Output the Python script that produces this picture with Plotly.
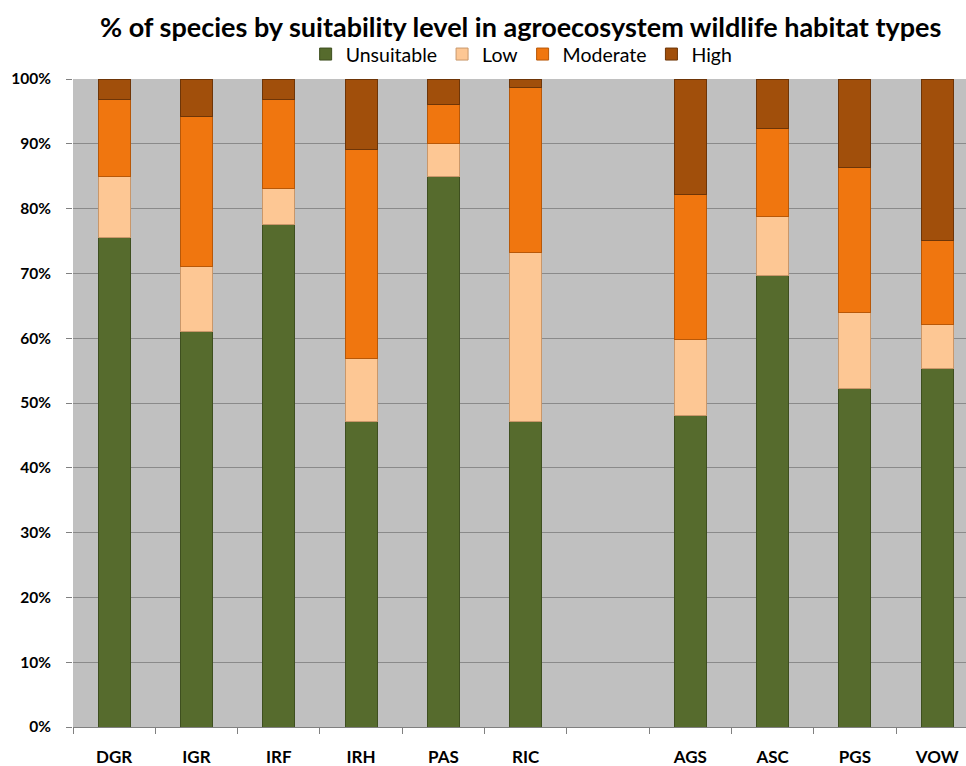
import plotly.graph_objects as go

categories = ["DGR", "IGR", "IRF", "IRH", "PAS", "RIC", " ", "AGS", "ASC", "PGS", "VOW"]
unsuitable = [75.5, 61.1, 77.5, 47.2, 84.9, 47.2, None, 48.0, 69.6, 52.2, 55.4]
low        = [9.4, 9.9, 5.6, 9.7, 5.1, 26.1, None, 11.8, 9.2, 11.7, 6.7]
moderate   = [12.0, 23.2, 13.8, 32.2, 6.0, 25.4, None, 22.3, 13.5, 22.4, 13.0]
high       = [3.1, 5.8, 3.1, 10.9, 4.0, 1.3, None, 17.9, 7.7, 13.7, 24.9]
y_ticks = [0, 10, 20, 30, 40, 50, 60, 70, 80, 90, 100]
y_tick_labels = [f"{v}%" for v in y_ticks]

series = [
    ("Unsuitable", unsuitable, "#566B2D", "#3E4F1F"),
    ("Low", low, "#FDC794", "#C9976A"),
    ("Moderate", moderate, "#F0760F", "#B85808"),
    ("High", high, "#A14F0B", "#6E3507"),
]

FONT = "Lato, Open Sans, sans-serif"

fig = go.Figure()
for name, vals, col, edge in series:
    fig.add_trace(go.Bar(
        x=categories, y=vals, name=name,
        marker=dict(color=col, line=dict(color=edge, width=1)),
    ))

fig.update_layout(
    barmode="stack",
    width=966, height=766,
    margin=dict(l=73, r=0, t=79, b=39, autoexpand=False),
    paper_bgcolor="white",
    plot_bgcolor="#C0C0C0",
    bargap=0.61,
    font=dict(family=FONT, color="black"),
    title=dict(
        text="<b>% of species by suitability level in agroecosystem wildlife habitat types</b>",
        x=0.539, xanchor="center", xref="container",
        y=0.964, yanchor="middle", yref="container",
        font=dict(size=27, family=FONT),
    ),
    legend=dict(
        orientation="h", x=0.540, xanchor="center", xref="container",
        y=0.929, yanchor="middle", yref="container",
        font=dict(size=19.5), traceorder="normal",
        itemwidth=30, tracegroupgap=0,
    ),
    xaxis=dict(
        type="category", range=[-0.5, 10.35],
        tickson="boundaries", ticks="outside", ticklen=6, tickcolor="#808080",
        showline=True, linecolor="#808080",
        tickfont=dict(size=17, family=FONT),
        ticklabelstandoff=15,
        tickprefix="<b>", ticksuffix="</b>",
    ),
    yaxis=dict(
        range=[0, 100], tickvals=y_ticks,
        ticktext=[f"<b>{t}</b>" for t in y_tick_labels],
        showgrid=True, gridcolor="#8A8A8A", gridwidth=1,
        ticks="outside", ticklen=6, tickcolor="#808080",
        tickfont=dict(size=15.5, family=FONT),
        ticklabelstandoff=12,
        zeroline=False,
    ),
)

fig.write_html(
    "out.html",
    config={"displayModeBar": False},
    post_script="document.body.style.margin='0';document.body.style.overflow='hidden';",
)
